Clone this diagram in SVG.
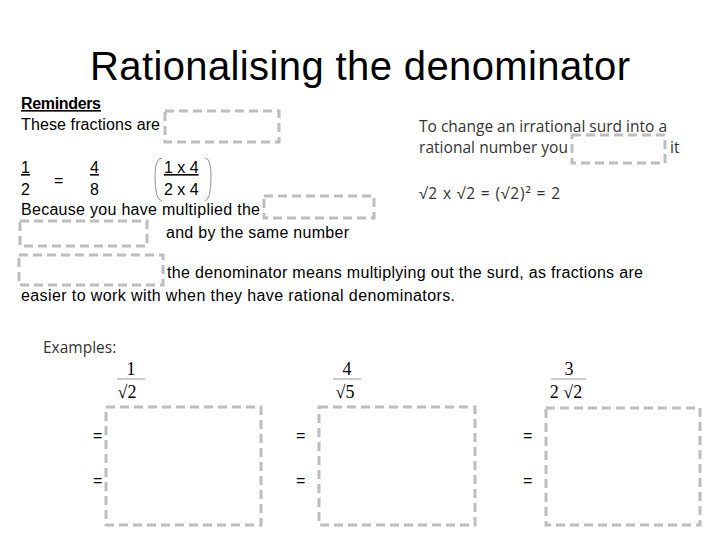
<svg xmlns="http://www.w3.org/2000/svg" width="720" height="540" viewBox="0 0 720 540">
<style>
.b{fill:none;stroke:#bdbdbd;stroke-width:3;stroke-dasharray:9 5}
.t{font-family:"Liberation Sans",Arial,sans-serif;font-size:16px;fill:#000}
.c{font-family:"Open Sans","Liberation Sans",sans-serif;font-size:15.5px;fill:#333}
.m{font-family:"Liberation Serif",serif;font-size:18px;fill:#000}
</style>
<rect width="720" height="540" fill="#fff"/>
<text x="360" y="80" text-anchor="middle" font-family="Liberation Sans,Arial,sans-serif" font-size="40" fill="#000" textLength="540">Rationalising the denominator</text>
<text class="t" x="21" y="109" font-weight="bold" text-decoration="underline" textLength="80">Reminders</text>
<text class="t" x="21" y="130" textLength="139">These fractions are</text>
<rect class="b" x="165" y="111" width="114" height="31"/>
<text class="t" x="21" y="173" text-decoration="underline">1</text>
<text class="t" x="21" y="195">2</text>
<text class="t" x="54" y="186">=</text>
<text class="t" x="90" y="173" text-decoration="underline">4</text>
<text class="t" x="90" y="195">8</text>
<text class="t" x="164" y="173" text-decoration="underline">1 x 4</text>
<text class="t" x="164" y="195">2 x 4</text>
<path d="M162 158 Q155 158 155 176 Q155 200 162 201" fill="none" stroke="#777" stroke-width="0.8"/>
<path d="M205 158 Q211 158 211 176 Q211 200 205 201" fill="none" stroke="#777" stroke-width="0.8"/>
<text class="t" x="21" y="215" textLength="239">Because you have multiplied the</text>
<rect class="b" x="264" y="196" width="110" height="22"/>
<rect class="b" x="20" y="221" width="127" height="25"/>
<text class="t" x="166" y="238" textLength="183">and by the same number</text>
<rect class="b" x="19" y="255" width="144" height="30"/>
<text class="t" x="167" y="278" textLength="476">the denominator means multiplying out the surd, as fractions are</text>
<text class="t" x="21" y="301" textLength="434">easier to work with when they have rational denominators.</text>
<text class="c" x="419" y="132" textLength="248">To change an irrational surd into a</text>
<text class="c" x="419" y="153" textLength="149">rational number you</text>
<rect class="b" x="572" y="135" width="93" height="28"/>
<text class="c" x="670" y="153">it</text>
<text class="c" x="419" y="199" textLength="141">√2 x √2 = (√2)² = 2</text>
<text class="c" x="43" y="353" font-size="15.5">Examples:</text>
<g id="ex1">
<text class="m" x="131" y="375" text-anchor="middle">1</text>
<line x1="117" y1="379" x2="145" y2="379" stroke="#999" stroke-width="1"/>
<text class="m" x="127" y="398" text-anchor="middle">√2</text>
<rect class="b" x="106" y="407" width="155" height="118"/>
<text class="t" x="93" y="441">=</text>
<text class="t" x="93" y="486">=</text>
</g>
<g id="ex2">
<text class="m" x="347" y="375" text-anchor="middle">4</text>
<line x1="333" y1="379" x2="361" y2="379" stroke="#999" stroke-width="1"/>
<text class="m" x="345" y="398" text-anchor="middle">√5</text>
<rect class="b" x="319" y="407" width="156" height="118"/>
<text class="t" x="296" y="441">=</text>
<text class="t" x="296" y="486">=</text>
</g>
<g id="ex3">
<text class="m" x="569" y="375" text-anchor="middle">3</text>
<line x1="551" y1="379" x2="586" y2="379" stroke="#999" stroke-width="1"/>
<text class="m" x="566" y="398" text-anchor="middle">2 √2</text>
<rect class="b" x="546" y="408" width="154" height="117"/>
<text class="t" x="523" y="441">=</text>
<text class="t" x="523" y="486">=</text>
</g>
</svg>
